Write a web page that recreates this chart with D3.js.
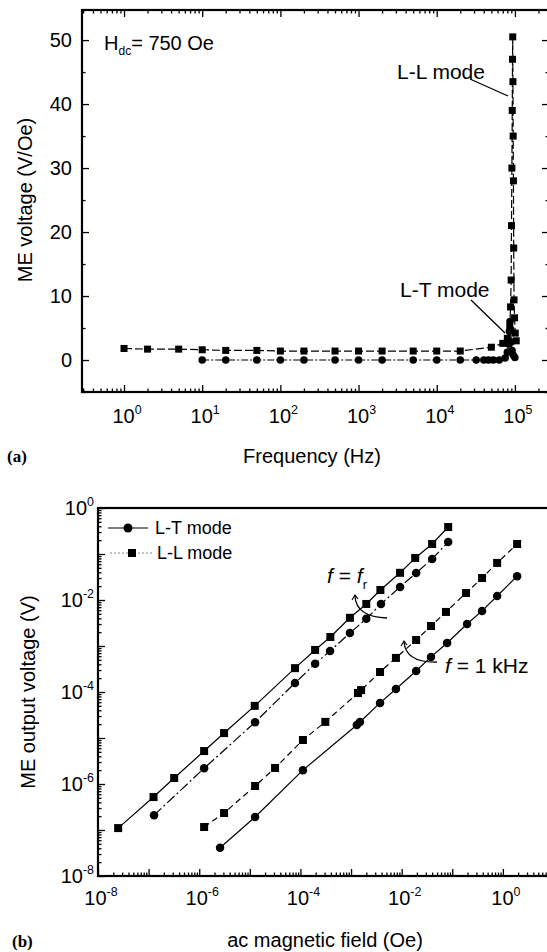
<!DOCTYPE html>
<html>
<head>
<meta charset="utf-8">
<script src="https://cdn.jsdelivr.net/npm/d3@7"></script>
<style>
  body { margin: 0; background: #fff; }
  svg { display: block; font-family: "Liberation Sans", Arial, sans-serif; }
  .domain { display: none; }
  .tick line { stroke: #000; stroke-width: 1.3; }
</style>
</head>
<body>
<svg id="chart" width="547" height="952"></svg>
<script>
// ---------- panel (a): ME voltage vs frequency ----------
const freqLL = [1, 2, 5, 10, 20, 50, 100, 200, 500, 1000, 2000, 5000, 10000, 20000, 50000,
  70000, 80000, 86000, 88000, 89500, 90500, 91500, 92500, 93200, 93800, 94400, 95000,
  95800, 96500, 97500, 99000, 101000, 104000];
const valLL = [1.8, 1.7, 1.7, 1.6, 1.5, 1.5, 1.4, 1.4, 1.4, 1.4, 1.4, 1.4, 1.4, 1.4, 2.0,
  2.6, 3.4, 5.2, 8.3, 12.5, 21, 30, 39, 47, 50.5, 43.5, 35,
  28, 17.5, 9.4, 6.6, 4.2, 3.0];

const freqLT = [10, 20, 50, 100, 200, 500, 1000, 2000, 5000, 10000, 20000, 32000, 40000,
  46000, 53000, 63000, 75000, 80000, 83000, 85000, 86500, 88000, 90000, 92000, 95000, 100000];
const valLT = [0, 0, 0, 0, 0, 0, 0, 0, 0, 0, 0, 0, 0,
  0, 0, 0, 0.3, 1.2, 2.5, 4.5, 6.0, 4.8, 2.8, 1.5, 0.8, 0.4];

const freqTicks = [1, 10, 100, 1000, 10000, 100000];
const freqExp = ["0", "1", "2", "3", "4", "5"];
const voltTicks = [0, 10, 20, 30, 40, 50];

// ---------- panel (b): output voltage vs ac field ----------
const hResLL = [2.5e-8, 1.25e-7, 3.2e-7, 1.25e-6, 3.1e-6, 1.25e-5, 7.8e-5, 1.95e-4, 3.9e-4,
  9.5e-4, 2.0e-3, 3.8e-3, 9.3e-3, 1.85e-2, 4.0e-2, 8.3e-2];
const vResLL = [1.1e-7, 5.2e-7, 1.35e-6, 5.2e-6, 1.28e-5, 5.0e-5, 3.3e-4, 8.2e-4, 1.57e-3,
  4.1e-3, 8.2e-3, 1.65e-2, 3.9e-2, 8.2e-2, 0.165, 0.386];

const hResLT = [1.28e-7, 1.25e-6, 1.27e-5, 7.8e-5, 1.95e-4, 3.85e-4, 9.5e-4, 2.0e-3, 3.9e-3,
  9.3e-3, 1.93e-2, 4.0e-2, 8.3e-2];
const vResLT = [2.1e-7, 2.2e-6, 2.2e-5, 1.57e-4, 4.1e-4, 7.8e-4, 1.92e-3, 3.9e-3, 8.2e-3,
  1.92e-2, 3.86e-2, 7.8e-2, 0.182];

const h1kLL = [1.25e-6, 3.1e-6, 1.27e-5, 3.15e-5, 1.12e-4, 3.1e-4, 1.37e-3, 1.58e-3, 3.74e-3,
  7.7e-3, 1.93e-2, 3.8e-2, 7.5e-2, 0.187, 0.388, 0.77, 1.91];
const v1kLL = [1.16e-7, 2.34e-7, 9.05e-7, 2.23e-6, 9.05e-6, 2.24e-5, 9.5e-5, 1.1e-4, 2.72e-4,
  5.5e-4, 1.35e-3, 2.72e-3, 5.5e-3, 1.42e-2, 3.0e-2, 6.4e-2, 0.165];

const h1kLT = [2.58e-6, 1.27e-5, 1.12e-4, 1.3e-3, 1.5e-3, 3.74e-3, 7.7e-3, 1.93e-2, 3.8e-2,
  7.9e-2, 0.196, 0.388, 0.77, 1.91];
const v1kLT = [4.1e-8, 1.92e-7, 2.0e-6, 1.92e-5, 2.23e-5, 5.8e-5, 1.16e-4, 2.86e-4, 5.8e-4,
  1.16e-3, 3.0e-3, 5.8e-3, 1.22e-2, 3.3e-2];

const fieldTicks = [1e-8, 1e-6, 1e-4, 1e-2, 1];
const fieldExp = ["-8", "-6", "-4", "-2", "0"];
const outTicks = [1e-8, 1e-6, 1e-4, 1e-2, 1];
const outExp = ["-8", "-6", "-4", "-2", "0"];

const svg = d3.select("#chart");
const zip = (a, b) => a.map((v, i) => [v, b[i]]);

// log minor ticks between decades
function logMinors(lo, hi) {
  const out = [];
  for (let e = Math.floor(Math.log10(lo)); e <= Math.ceil(Math.log10(hi)); e++) {
    for (let k = 2; k <= 9; k++) {
      const v = k * Math.pow(10, e);
      if (v > lo && v < hi) out.push(v);
    }
  }
  return out;
}
function logMajors(lo, hi) {
  const out = [];
  for (let e = Math.ceil(Math.log10(lo)); e <= Math.floor(Math.log10(hi)); e++) out.push(Math.pow(10, e));
  return out;
}

function addAxis(g, axisFn, scale, vals, size, transform) {
  g.append("g").attr("transform", transform)
    .call(axisFn(scale).tickValues(vals).tickSize(size).tickFormat(""));
}

function powLabel(g, x, y, exp, anchor, fs) {
  const t = g.append("text").attr("x", x).attr("y", y)
    .attr("text-anchor", anchor).attr("font-size", fs);
  t.append("tspan").text("10");
  t.append("tspan").attr("dy", -fs * 0.45).attr("font-size", fs * 0.62).text(exp);
}

function drawMarkers(g, data, xs, ys, shape, size) {
  if (shape === "square") {
    g.selectAll(null).data(data).join("rect")
      .attr("x", d => xs(d[0]) - size / 2).attr("y", d => ys(d[1]) - size / 2)
      .attr("width", size).attr("height", size).attr("fill", "#000");
  } else {
    g.selectAll(null).data(data).join("circle")
      .attr("cx", d => xs(d[0])).attr("cy", d => ys(d[1]))
      .attr("r", size / 2).attr("fill", "#000");
  }
}

// ─────────── PANEL (a) ───────────
const ax = d3.scaleLog().domain([0.29, 2.73e5]).range([82, 549]);
const ay = d3.scaleLinear().domain([-5, 54.7]).range([392, 10]);
const ga = svg.append("g");

const aMinX = logMinors(0.29, 2.73e5);
const aMinY = [-5, 5, 15, 25, 35, 45];
addAxis(ga, d3.axisBottom, ax, freqTicks, -7, "translate(0,392)");
addAxis(ga, d3.axisBottom, ax, aMinX, -3.5, "translate(0,392)");
addAxis(ga, d3.axisTop, ax, freqTicks, -7, "translate(0,10)");
addAxis(ga, d3.axisTop, ax, aMinX, -3.5, "translate(0,10)");
addAxis(ga, d3.axisLeft, ay, voltTicks, -7, "translate(82,0)");
addAxis(ga, d3.axisLeft, ay, aMinY, -3.5, "translate(82,0)");
addAxis(ga, d3.axisRight, ay, voltTicks, -7, "translate(549,0)");
addAxis(ga, d3.axisRight, ay, aMinY, -3.5, "translate(549,0)");

ga.append("rect").attr("x", 82).attr("y", 10).attr("width", 467).attr("height", 382)
  .attr("fill", "none").attr("stroke", "#000").attr("stroke-width", 2.2);

voltTicks.forEach(v => {
  ga.append("text").attr("x", 72).attr("y", ay(v) + 7).attr("text-anchor", "end")
    .attr("font-size", 20).text(v);
});
freqTicks.forEach((v, i) => powLabel(ga, ax(v) + 3, 423, freqExp[i], "middle", 20));

const lineA = d3.line().x(d => ax(d[0])).y(d => ay(d[1]));
const dataLL = zip(freqLL, valLL);
const dataLT = zip(freqLT, valLT);
ga.append("path").attr("d", lineA(dataLT)).attr("fill", "none").attr("stroke", "#000")
  .attr("stroke-width", 1.2).attr("stroke-dasharray", "7,2,2,2");
ga.append("path").attr("d", lineA(dataLL)).attr("fill", "none").attr("stroke", "#000")
  .attr("stroke-width", 1.2).attr("stroke-dasharray", "8,3");
drawMarkers(ga, dataLT, ax, ay, "circle", 7.5);
drawMarkers(ga, dataLL, ax, ay, "square", 7);

// annotations
const hdc = ga.append("text").attr("x", 104).attr("y", 50).attr("font-size", 20);
hdc.append("tspan").text("H");
hdc.append("tspan").attr("dy", 5).attr("font-size", 12).text("dc");
hdc.append("tspan").attr("dy", -5).text("= 750 Oe");

ga.append("text").attr("x", 397).attr("y", 79).attr("font-size", 21).text("L-L mode");
ga.append("line").attr("x1", 470).attr("y1", 79).attr("x2", 508).attr("y2", 96)
  .attr("stroke", "#000").attr("stroke-width", 1.3);
ga.append("text").attr("x", 400).attr("y", 297).attr("font-size", 21).text("L-T mode");
ga.append("line").attr("x1", 471).attr("y1", 300).attr("x2", 505).attr("y2", 333)
  .attr("stroke", "#000").attr("stroke-width", 1.3);

ga.append("text").attr("x", 25).attr("y", 200).attr("font-size", 20)
  .attr("text-anchor", "middle").attr("transform", "rotate(-90,25,200)")
  .attr("dy", 7).text("ME voltage (V/Oe)");
ga.append("text").attr("x", 312).attr("y", 463).attr("font-size", 20)
  .attr("text-anchor", "middle").text("Frequency (Hz)");
ga.append("text").attr("x", 7).attr("y", 462).attr("font-size", 17)
  .attr("font-family", "Liberation Serif, serif").attr("font-weight", "bold").text("(a)");

// ─────────── PANEL (b) ───────────
const bx = d3.scaleLog().domain([1e-8, 10]).range([98, 553.5]);
const by = d3.scaleLog().domain([1e-8, 1]).range([876, 508]);
const gb = svg.append("g");

const bMajX = logMajors(1e-8, 10);
const bMinX = logMinors(1e-8, 10);
const bMajY = logMajors(1e-8, 1);
const bMinY = logMinors(1e-8, 1);
addAxis(gb, d3.axisBottom, bx, bMajX, -7, "translate(0,876)");
addAxis(gb, d3.axisBottom, bx, bMinX, -3.5, "translate(0,876)");
addAxis(gb, d3.axisLeft, by, bMajY, -7, "translate(98,0)");
addAxis(gb, d3.axisLeft, by, bMinY, -3.5, "translate(98,0)");

gb.append("rect").attr("x", 98).attr("y", 508).attr("width", 456).attr("height", 368)
  .attr("fill", "none").attr("stroke", "#000").attr("stroke-width", 2.2);

outTicks.forEach((v, i) => powLabel(gb, 94, by(v) + 7, outExp[i], "end", 20));
fieldTicks.forEach((v, i) => powLabel(gb, bx(v) + 3, 905, fieldExp[i], "middle", 20));

const lineB = d3.line().x(d => bx(d[0])).y(d => by(d[1]));
const series = [
  { data: zip(hResLL, vResLL), shape: "square", dash: null },
  { data: zip(hResLT, vResLT), shape: "circle", dash: "10,3,2,3" },
  { data: zip(h1kLL, v1kLL), shape: "square", dash: "6,4" },
  { data: zip(h1kLT, v1kLT), shape: "circle", dash: null }
];
series.forEach(s => {
  gb.append("path").attr("d", lineB(s.data)).attr("fill", "none").attr("stroke", "#000")
    .attr("stroke-width", 1.2).attr("stroke-dasharray", s.dash);
});
series.forEach(s => drawMarkers(gb, s.data, bx, by, s.shape, s.shape === "square" ? 8 : 8.5));

// legend
const leg = gb.append("g");
leg.append("line").attr("x1", 108).attr("x2", 148).attr("y1", 528).attr("y2", 528)
  .attr("stroke", "#000").attr("stroke-width", 1.2);
leg.append("circle").attr("cx", 128).attr("cy", 528).attr("r", 4.5);
leg.append("text").attr("x", 155).attr("y", 534).attr("font-size", 18).text("L-T mode");
leg.append("line").attr("x1", 110).attr("x2", 152).attr("y1", 553).attr("y2", 553)
  .attr("stroke", "#888").attr("stroke-width", 1).attr("stroke-dasharray", "2,2");
leg.append("rect").attr("x", 128).attr("y", 549).attr("width", 8).attr("height", 8);
leg.append("text").attr("x", 157).attr("y", 559).attr("font-size", 18).text("L-L mode");

// annotations
const fr = gb.append("text").attr("x", 327).attr("y", 583).attr("font-size", 21);
fr.append("tspan").attr("font-style", "italic").text("f");
fr.append("tspan").text(" = ");
fr.append("tspan").attr("font-style", "italic").text("f");
fr.append("tspan").attr("dy", 6).attr("font-size", 13).text("r");
gb.append("path").attr("d", "M355,596 Q356,617 387,618").attr("fill", "none")
  .attr("stroke", "#000").attr("stroke-width", 1.3);
gb.append("path").attr("d", "M352,600 L355,595 L358,599").attr("fill", "none")
  .attr("stroke", "#000").attr("stroke-width", 1.1);

const fk = gb.append("text").attr("x", 445).attr("y", 673).attr("font-size", 21);
fk.append("tspan").attr("font-style", "italic").text("f");
fk.append("tspan").text(" = 1 kHz");
gb.append("path").attr("d", "M404,642 Q406,663 437,662").attr("fill", "none")
  .attr("stroke", "#000").attr("stroke-width", 1.3);
gb.append("path").attr("d", "M401,646 L404,641 L407,645").attr("fill", "none")
  .attr("stroke", "#000").attr("stroke-width", 1.1);

gb.append("text").attr("x", 28).attr("y", 692).attr("font-size", 20)
  .attr("text-anchor", "middle").attr("transform", "rotate(-90,28,692)")
  .attr("dy", 7).text("ME output voltage (V)");
gb.append("text").attr("x", 325).attr("y", 947).attr("font-size", 20)
  .attr("text-anchor", "middle").text("ac magnetic field (Oe)");
gb.append("text").attr("x", 12).attr("y", 947).attr("font-size", 17)
  .attr("font-family", "Liberation Serif, serif").attr("font-weight", "bold").text("(b)");
</script>
</body>
</html>
